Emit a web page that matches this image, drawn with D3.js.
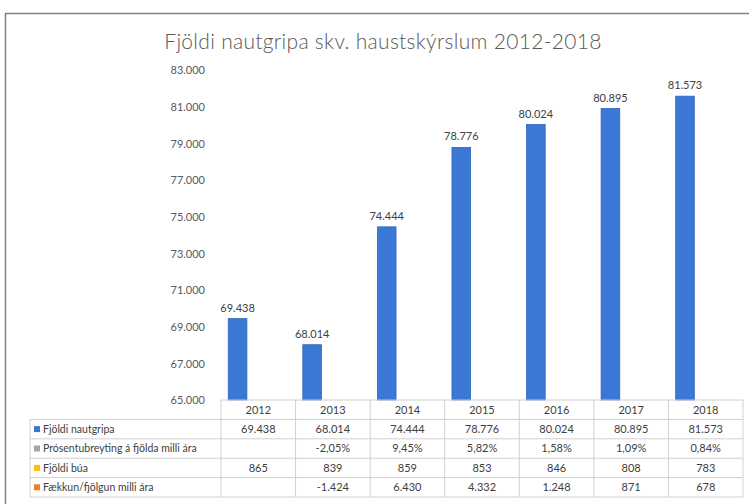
<!DOCTYPE html>
<html>
<head>
<meta charset="utf-8">
<script src="https://cdn.jsdelivr.net/npm/d3@7"></script>
<style>
  body { margin: 0; background: #fff; }
  svg { display: block; font-family: Lato, "Open Sans", sans-serif; }
</style>
</head>
<body>
<div id="chart"></div>
<script>
const years = ["2012", "2013", "2014", "2015", "2016", "2017", "2018"]
const fjoldiNautgripa = [69438, 68014, 74444, 78776, 80024, 80895, 81573]
const prosentubreyting = [null, -2.05, 9.45, 5.82, 1.58, 1.09, 0.84]
const fjoldiBua = [865, 839, 859, 853, 846, 808, 783]
const faekkunFjolgun = [null, -1424, 6430, 4332, 1248, 871, 678]
const yTicks = [65000, 67000, 69000, 71000, 73000, 75000, 77000, 79000, 81000, 83000]
const seriesNames = ["Fjöldi nautgripa", "Prósentubreyting á fjölda milli ára", "Fjöldi búa", "Fækkun/fjölgun milli ára"]
const seriesColors = ["#3b78d6", "#a5a5a5", "#ffc000", "#ed7d31"]

const locale = d3.formatLocale({decimal: ",", thousands: ".", grouping: [3], currency: ["", ""], minus: "-"})
const fmtInt = locale.format(",d")
const fmtPct = v => locale.format(",.2f")(v) + "%"

drawChart("#chart")

function drawChart(id){
    const canvas = createCanvas()
    const svg = addSvg(id, canvas)
    const sc = addScales(canvas)

    addFrame(svg, canvas)
    addTitle(svg, canvas)
    addYAxis(svg, sc, canvas)
    addBars(svg, sc)
    addTable(svg, sc, canvas)
}

function createCanvas(){
    return {
        width: 749, height: 504,
        margin: {top: 70, bottom: 104, right: 6, left: 221},
        rowH: 19.4
    }
}

function addSvg(id, canvas){
    return d3.select(id).append("svg")
      .attr("width", canvas.width).attr("height", canvas.height)
}

function addScales(canvas){
    const xScale = d3.scaleBand().domain(years)
      .range([canvas.margin.left, canvas.width - canvas.margin.right])

    // clustered columns: only the first series reaches above the 65.000 axis floor
    const xSub = d3.scaleBand().domain(["nautgripa", "bua", "faekkun"])
      .range([0, xScale.bandwidth()]).paddingInner(0.1).paddingOuter(0.35)

    const yScale = d3.scaleLinear().domain([65000, 83000])
      .range([canvas.height - canvas.margin.bottom, canvas.margin.top])

    return {xScale, xSub, yScale}
}

function addFrame(svg, canvas){
    svg.append("rect").attr("x", 5.5).attr("y", 13.5)
      .attr("width", canvas.width + 20).attr("height", canvas.height + 20)
      .attr("fill", "#fff").attr("stroke", "#7f7f7f").attr("stroke-width", 1.5)
}

function addTitle(svg, canvas){
    svg.append("text").attr("x", 383).attr("y", 49)
      .attr("text-anchor", "middle").attr("font-size", 21).attr("font-weight", 300)
      .attr("letter-spacing", 0.3).attr("fill", "#595959")
      .text("Fjöldi nautgripa skv. haustskýrslum 2012-2018")
}

function addYAxis(svg, sc, canvas){
    const g = svg.append("g").attr("transform", `translate(${canvas.margin.left - 13},0)`)
      .call(d3.axisLeft(sc.yScale).tickValues(yTicks).tickFormat(fmtInt).tickSize(0))
    g.select(".domain").remove()
    g.selectAll("text").attr("font-family", "Lato, sans-serif").attr("font-size", 11)
      .attr("fill", "#595959").attr("dy", "0.35em")
}

function addBars(svg, sc){
    const data = years.map((y, i) => ({year: y, value: fjoldiNautgripa[i]}))
    const y0 = sc.yScale.range()[0]

    svg.append("g").selectAll("rect").data(data).join("rect")
      .attr("x", d => sc.xScale(d.year) + sc.xSub("nautgripa"))
      .attr("width", sc.xSub.bandwidth())
      .attr("y", d => sc.yScale(d.value))
      .attr("height", d => y0 - sc.yScale(d.value))
      .attr("fill", seriesColors[0]).attr("stroke", "#2e64bd").attr("stroke-width", 0.8)

    svg.append("g").selectAll("text").data(data).join("text")
      .attr("x", d => sc.xScale(d.year) + sc.xSub("nautgripa") + sc.xSub.bandwidth() / 2)
      .attr("y", d => sc.yScale(d.value) - 7)
      .attr("text-anchor", "middle").attr("font-size", 11).attr("fill", "#404040")
      .text(d => fmtInt(d.value))
}

function addTable(svg, sc, canvas){
    const top = sc.yScale.range()[0]
    const h = canvas.rowH
    const left = 30
    const right = canvas.width - canvas.margin.right
    const x0 = canvas.margin.left
    const rows = [
        fjoldiNautgripa.map(v => fmtInt(v)),
        prosentubreyting.map(v => v == null ? "" : fmtPct(v)),
        fjoldiBua.map(v => fmtInt(v)),
        faekkunFjolgun.map(v => v == null ? "" : fmtInt(v))
    ]
    const g = svg.append("g").attr("stroke", "#d0d0d0").attr("stroke-width", 1)

    // horizontal rules
    g.append("line").attr("x1", x0).attr("x2", right).attr("y1", top).attr("y2", top)
    d3.range(1, rows.length + 2).forEach(r => {
        g.append("line").attr("x1", left).attr("x2", right)
          .attr("y1", top + r * h).attr("y2", top + r * h)
    })
    // vertical rules
    g.append("line").attr("x1", left).attr("x2", left).attr("y1", top + h).attr("y2", top + (rows.length + 1) * h)
    years.forEach(y => {
        const xx = sc.xScale(y)
        g.append("line").attr("x1", xx).attr("x2", xx).attr("y1", top).attr("y2", top + (rows.length + 1) * h)
    })
    g.append("line").attr("x1", right).attr("x2", right).attr("y1", top).attr("y2", top + (rows.length + 1) * h)

    const t = svg.append("g").attr("font-size", 11).attr("fill", "#404040")
    t.selectAll(".yr").data(years).join("text").attr("class", "yr")
      .attr("x", d => sc.xScale(d) + sc.xScale.bandwidth() / 2).attr("y", top + h / 2)
      .attr("dy", "0.35em").attr("text-anchor", "middle").text(d => d)

    rows.forEach((row, r) => {
        const cy = top + (r + 1) * h + h / 2
        t.append("rect").attr("x", left + 4).attr("y", cy - 3).attr("width", 6).attr("height", 6)
          .attr("fill", seriesColors[r])
        t.append("text").attr("x", left + 13).attr("y", cy).attr("dy", "0.35em")
          .attr("font-size", 10.5).text(seriesNames[r])
        t.selectAll(null).data(row).join("text")
          .attr("x", (d, i) => sc.xScale(years[i]) + sc.xScale.bandwidth() / 2).attr("y", cy)
          .attr("dy", "0.35em").attr("text-anchor", "middle").text(d => d)
    })
}
</script>
</body>
</html>
